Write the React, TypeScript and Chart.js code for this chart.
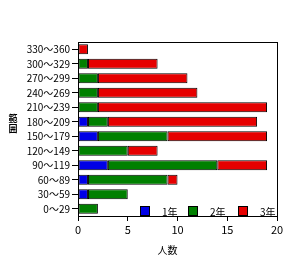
import React, { useEffect, useRef } from "react";
import { Chart, registerables } from "chart.js";

Chart.register(...registerables);

const categories = ["0～29", "30～59", "60～89", "90～119", "120～149", "150～179", "180～209", "210～239", "240～269", "270～299", "300～329", "330～360"];
const seriesNames = ["1年", "2年", "3年"];
const year1 = [0, 1, 1, 3, 0, 2, 1, 0, 0, 0, 0, 0];
const year2 = [2, 4, 8, 11, 5, 7, 2, 2, 2, 2, 1, 0];
const year3 = [0, 0, 1, 5, 3, 10, 15, 17, 10, 9, 7, 1];
const colors = ["#0000e6", "#008000", "#e60000"];
const xTitle = "人数";
const yTitle = ["範", "囲"];
const FONT = "'Noto Sans CJK JP', 'Noto Sans', sans-serif";

export default function App() {
  const ref = useRef<HTMLCanvasElement>(null);
  useEffect(() => {
    document.body.style.margin = "0";
    const extras = {
      id: "extras",
      afterDraw(chart: any) {
        const { ctx, chartArea } = chart;
        ctx.save();
        ctx.strokeStyle = "#000";
        ctx.lineWidth = 1;
        ctx.strokeRect(chartArea.left + 0.5, chartArea.top + 0.5, chartArea.right - chartArea.left, chartArea.bottom - chartArea.top);
        ctx.font = `10px ${FONT}`;
        ctx.textBaseline = "middle";
        ctx.textAlign = "left";
        const offsets = [62, 110, 160];
        seriesNames.forEach((n, i) => {
          const x = chartArea.left + offsets[i];
          const y = chartArea.bottom - 10;
          ctx.fillStyle = colors[i];
          ctx.fillRect(x, y, 10, 10);
          ctx.strokeRect(x + 0.5, y + 0.5, 9, 9);
          ctx.fillStyle = "#000";
          ctx.fillText(n, x + 22, y + 6);
        });
        ctx.textAlign = "center";
        ctx.fillText(xTitle, (chartArea.left + chartArea.right) / 2 - 10, 250);
        ctx.font = `bold 9px ${FONT}`;
        const cy = (chartArea.top + chartArea.bottom) / 2;
        yTitle.forEach((c, i) => ctx.fillText(c, 13, cy - 10 + i * 10));
        ctx.restore();
      },
    };
    const chart = new Chart(ref.current!, {
      type: "bar",
      data: {
        labels: categories,
        datasets: [year1, year2, year3].map((d, i) => ({
          label: seriesNames[i],
          data: d,
          backgroundColor: colors[i],
          borderColor: "#000",
          borderWidth: 1,
          borderSkipped: false,
          barPercentage: 0.7,
          categoryPercentage: 1,
        })),
      },
      options: {
        indexAxis: "y",
        animation: false,
        responsive: false,
        maintainAspectRatio: false,
        layout: { padding: { top: 42, right: 12, left: 0, bottom: 0 } },
        plugins: { legend: { display: false }, tooltip: { enabled: false } },
        scales: {
          x: {
            stacked: true,
            min: 0,
            max: 20,
            ticks: { stepSize: 5, color: "#000", font: { size: 11, family: FONT }, padding: 2 },
            grid: { drawOnChartArea: false, color: "#000", tickLength: 5 },
            border: { color: "#000" },
            afterFit(s: any) { s.height = 49; },
          },
          y: {
            stacked: true,
            reverse: true,
            ticks: { color: "#000", font: { size: 10, family: FONT }, padding: 2, autoSkip: false },
            grid: { drawOnChartArea: false, color: "#000", tickLength: 6, offset: false },
            border: { color: "#000" },
            afterFit(s: any) { s.width = 78; },
          },
        },
      },
      plugins: [extras],
    });
    return () => chart.destroy();
  }, []);
  return <canvas ref={ref} width={289} height={265} style={{ display: "block" }} />;
}
